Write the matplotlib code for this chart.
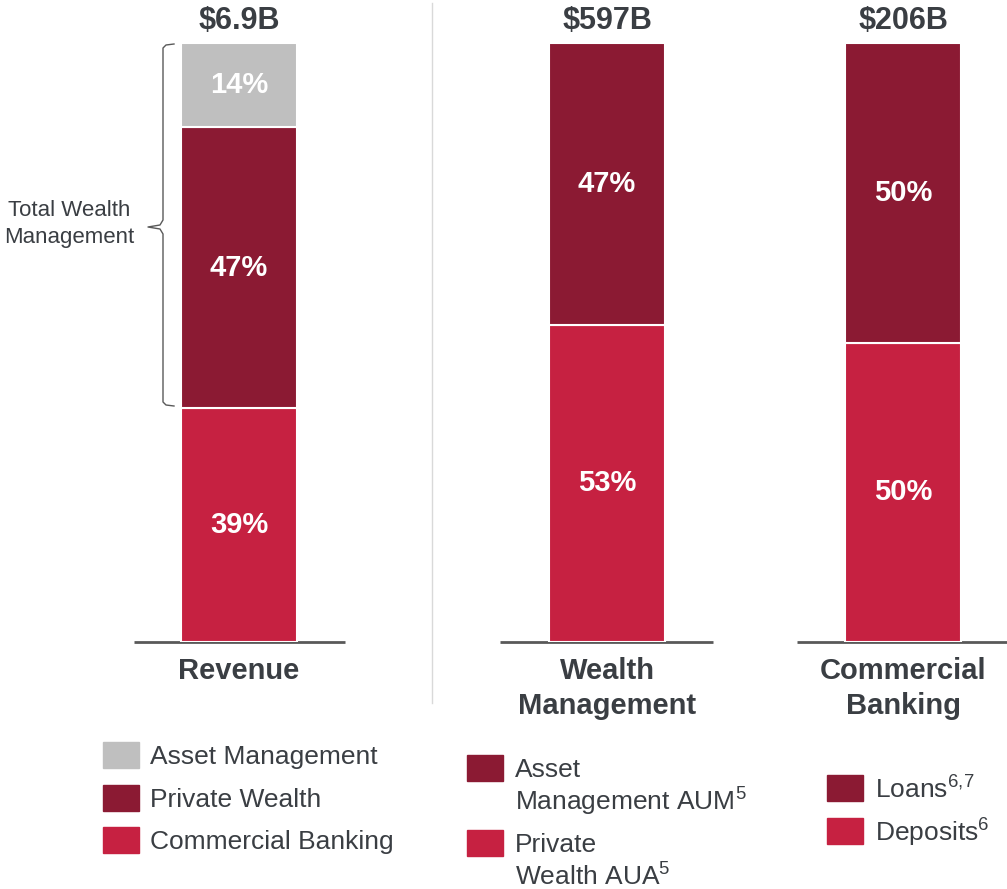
import matplotlib
matplotlib.use('Agg')
from matplotlib import pyplot as plt
from matplotlib.patches import Rectangle

plt.rcParams['font.family'] = ['Liberation Sans', 'DejaVu Sans']
plt.rcParams['mathtext.fontset'] = 'custom'
plt.rcParams['mathtext.rm'] = 'Liberation Sans'
plt.rcParams['mathtext.default'] = 'regular'

# ---------------- data ----------------
bar_names = ['Revenue', 'Wealth\nManagement', 'Commercial\nBanking']
bar_totals = ['\\$6.9B', '\\$597B', '\\$206B']

# shares listed bottom -> top
revenue_shares = [39, 47, 14]      # Commercial Banking, Private Wealth, Asset Management
wealth_shares = [53, 47]           # Private Wealth AUA, Asset Management AUM
commercial_shares = [50, 50]       # Deposits, Loans

revenue_labels = ['Asset Management', 'Private Wealth', 'Commercial Banking']
wealth_labels = ['Asset\nManagement AUM$^{5}$', 'Private\nWealth AUA$^{5}$']
commercial_labels = ['Loans$^{6,\\!7}$', 'Deposits$^{6}$']

# ---------------- style ----------------
GREY = '#bfbfbf'
DARK_RED = '#8b1a33'
RED = '#c62141'
TEXT = '#3a3e43'
LINE = '#595959'

W, H = 1007, 889
fig = plt.figure(figsize=(W / 100, H / 100), dpi=100)

# main axes: x in pixels, y in percent
ax = fig.add_axes([0, (H - 642) / H, 1, (642 - 43) / H])
ax.set_xlim(0, W)
ax.set_ylim(0, 100)
ax.axis('off')

centers = [239, 607, 903]
bar_w = 116
stacks = [
    (revenue_shares, [RED, DARK_RED, GREY]),
    (wealth_shares, [RED, DARK_RED]),
    (commercial_shares, [RED, DARK_RED]),
]

for x, (shares, cols) in zip(centers, stacks):
    bottom = 0
    for v, c in zip(shares, cols):
        ax.bar(x, v, bottom=bottom, width=bar_w, color=c, edgecolor='white', linewidth=1.5)
        ax.text(x, bottom + v / 2, f'{v}%', ha='center', va='center', color='white',
                fontsize=21, fontweight='bold')
        bottom += v

# overlay axes in pixel coords for annotations
ov = fig.add_axes([0, 0, 1, 1], zorder=-1)
ov.set_xlim(0, W)
ov.set_ylim(H, 0)
ov.axis('off')

# baselines
for x0, x1 in [(134, 345), (500, 713), (797, 1007)]:
    ov.plot([x0, x1], [642, 642], color=LINE, lw=2, solid_capstyle='butt')

# divider
ov.plot([432, 432], [3, 703], color='#d9d9d9', lw=1)

# totals and category names
for x, t, n in zip(centers, bar_totals, bar_names):
    ov.text(x, 21, t, ha='center', va='center', fontsize=22, fontweight='bold', color=TEXT)
    for i, line in enumerate(n.split('\n')):
        ov.text(x, 671 + 35 * i, line, ha='center', va='center', fontsize=21,
                fontweight='bold', color=TEXT)

# bracket for Total Wealth Management
bx = [174, 166, 163, 163, 160, 148, 160, 163, 163, 166, 174]
by = [44, 45, 48, 220, 225, 227, 229, 234, 402, 405, 406]
ov.plot(bx, by, color=LINE, lw=1)
ov.text(69, 211, 'Total Wealth', ha='center', va='center', fontsize=16, color=TEXT)
ov.text(69, 237, 'Management', ha='center', va='center', fontsize=16, color=TEXT)

# legends
def legend_block(x, ys, labels, cols, text_x, sq_w=36, sq_h=26):
    for y, lab, c in zip(ys, labels, cols):
        ov.add_patch(Rectangle((x, y - sq_h / 2), sq_w, sq_h, color=c))
        for i, line in enumerate(lab.split('\n')):
            ov.text(text_x, y + 2 + 32 * i, line, ha='left', va='center', fontsize=19,
                    color=TEXT)

legend_block(103, [755, 798, 840], revenue_labels, [GREY, DARK_RED, RED], 150)
legend_block(467, [768, 843], wealth_labels, [DARK_RED, RED], 515)
legend_block(827, [788, 831], commercial_labels, [DARK_RED, RED], 875)

fig.savefig('out.png', dpi=100)
